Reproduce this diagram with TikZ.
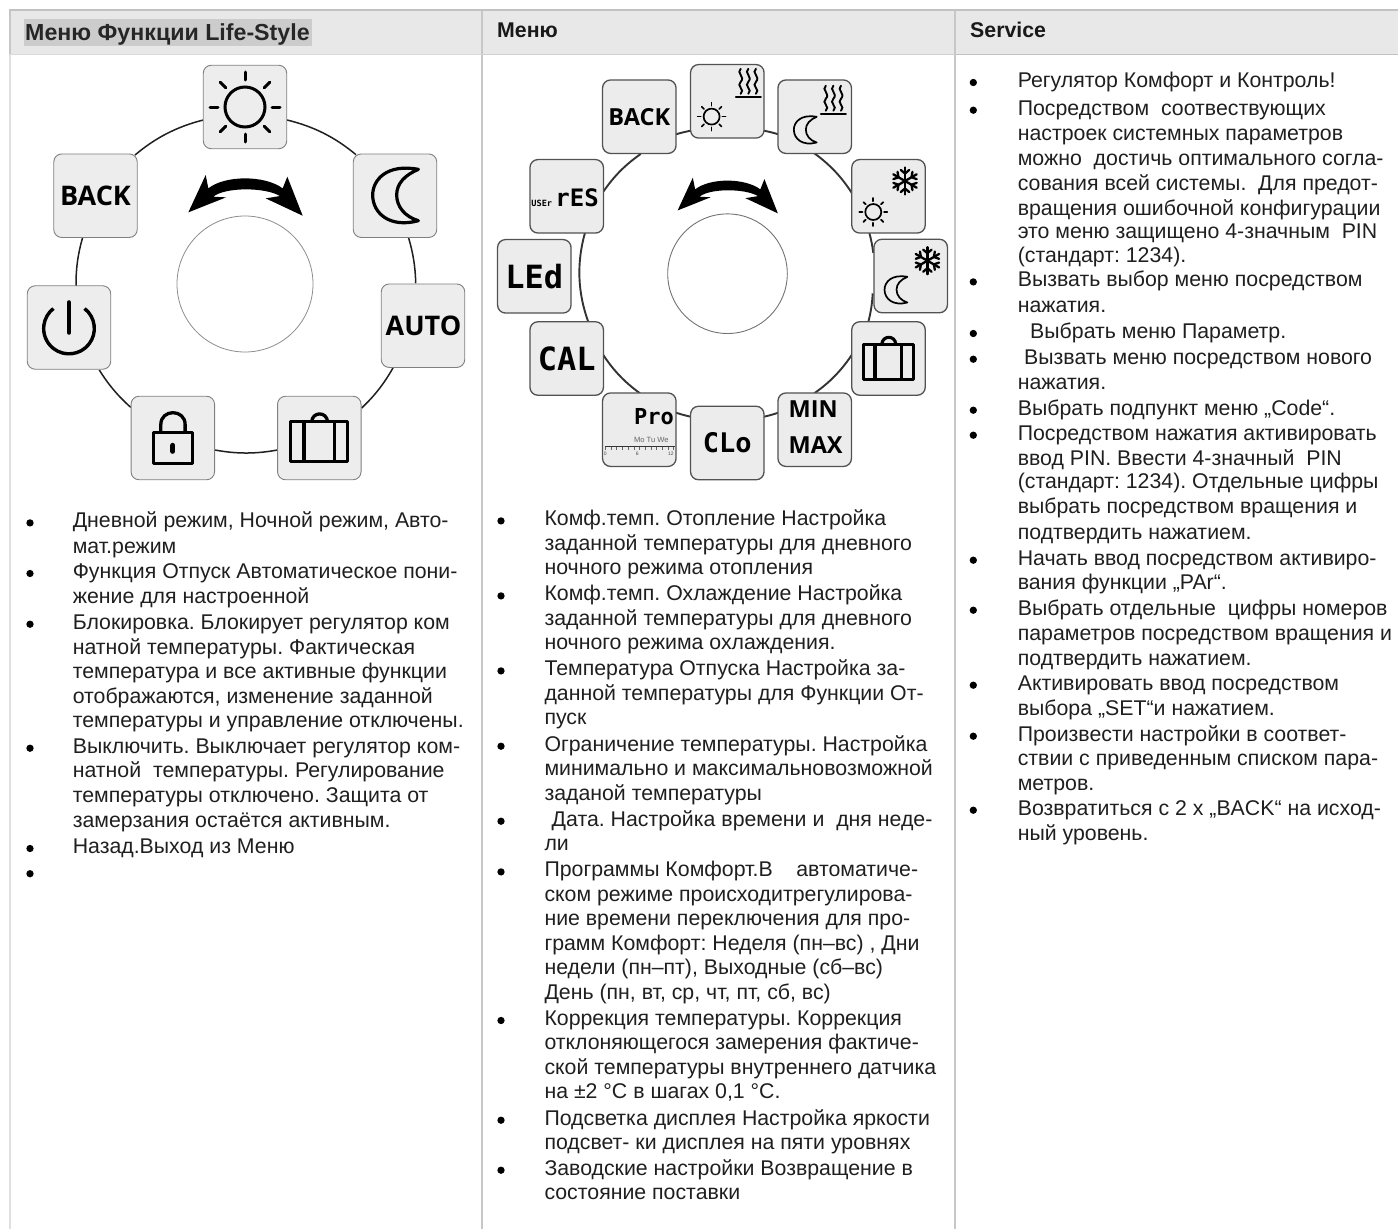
\documentclass[tikz,border=0pt]{standalone}
\usepackage{fontspec}
\setmainfont{Liberation Sans}
\newfontfamily\osb{Open Sans}
\newfontfamily\lcd{DejaVu Sans Mono}
\usetikzlibrary{backgrounds}
\frenchspacing
\newcounter{lc}
\newcommand\txl[3]{\stepcounter{lc}\node[bodytxt] (t\arabic{lc}) at (#1,#2) {#3};}
\newcommand\bul[2]{\stepcounter{lc}\node[bulletdot] (b\arabic{lc}) at (#1,#2-4.8) {};}
\newcommand\cola[2]{\bul{30}{#1}\txl{72.6}{#1}{#2}}
\newcommand\colb[2]{\bul{501}{#1}\txl{544.3}{#1}{#2}}
\newcommand\colc[2]{\bul{973.3}{#1}\txl{1017.6}{#1}{#2}}
\newcommand\ringarc[6][ringa]{\draw[#1] ([shift={(#3)}]#2.center) to[bend left=#6,looseness=.9] ([shift={(#5)}]#4.center);}
\newcommand\sunicon[5]{\begin{scope}[shift={(#1.center)},shift={(#2,#3)},line width=#5pt,line cap=round]
\draw (0,0) circle[radius=#4*20];
\foreach \a in {0,45,...,315} \draw (\a:#4*27) -- (\a:#4*35);
\end{scope}}
\newcommand\moonicon[5]{\begin{scope}[shift={(#1.center)},shift={(#2,#3)},scale=#4/3,line width=#5pt,line join=round]
\draw (70,-79) .. controls (-25,-97) and (-67,-47) .. (-67,-2) .. controls (-67,53) and (-15,98) .. (70,75) .. controls (30,63) and (5,33) .. (5,-2) .. controls (5,-37) and (30,-62) .. (70,-79) -- cycle;
\end{scope}}
\newcommand\caseicon[3]{\begin{scope}[shift={(#1.center)},scale=#2/3,line width=#3pt,line join=round]
\draw (-86,-49) rectangle (85,71);
\draw (-46,-49) -- (-46,71) (45,-49) -- (45,71);
\draw (-23,-49) .. controls (-20,-80) and (22,-80) .. (25,-49);
\end{scope}}
\newcommand\waveicon[3]{\begin{scope}[shift={(#1.center)},shift={(#2,#3)},line width=1.9pt,line cap=round]
\foreach \q in {-7.6,0,7.6} \draw (\q,-14) .. controls (\q-5,-10) and (\q+5,-6) .. (\q,-1) .. controls (\q-5,3) and (\q+5,7) .. (\q,11);
\draw[line width=2pt] (-12.5,14.2) -- (12.5,14.2);
\end{scope}}
\newcommand\flakeicon[3]{\begin{scope}[shift={(#1.center)},shift={(#2,#3)},line width=2.3pt,line cap=round]
\foreach \a in {30,90,...,330} {\draw (0,0) -- (\a:13.5);
\draw (\a:7.5) -- ++(\a+50:5.5) (\a:7.5) -- ++(\a-50:5.5);}
\end{scope}}
\newcommand\turnarrow[3]{\begin{scope}[shift={(#1,#2)},scale=#3/3]
\fill[black] (-170,47) -- (-118,-65) -- (-110,-25) .. controls (-60,-65) and (60,-65) .. (113,-25) -- (127,-60) -- (173,57) -- (62,5) -- (105,-2) .. controls (60,-29) and (-60,-29) .. (-95,0) -- (-57,2) -- cycle;
\end{scope}}
\tikzset{
 bodytxt/.style={anchor=base west,inner sep=0pt,text=black!88,font=\fontsize{21.3}{24}\selectfont},
 headtxt/.style={anchor=base west,inner sep=0pt,text=black!90,font=\fontsize{21.3}{24}\selectfont\bfseries},
 titletxt/.style={anchor=base west,inner sep=0pt,text=black!85,font=\fontsize{23.2}{24}\selectfont\bfseries},
 bulletdot/.style={circle,fill=black,inner sep=0pt,minimum size=7.3pt},
 bigkey/.style={draw=black!50,fill=black!7,line width=.9pt,rounded corners=8pt,minimum size=83.5pt,inner sep=0pt},
 smallkey/.style={draw=black!68,fill=black!7.5,line width=1.3pt,rounded corners=8pt,minimum size=73.5pt,inner sep=0pt},
 ringa/.style={draw=black!88,line width=1.5pt},
 ringb/.style={draw=black!80,line width=1.9pt},
 keybold/.style={font=\fontsize{#1}{#1}\osb\bfseries\selectfont,text=black},
 lcdtext/.style={font=\fontsize{#1}{#1}\lcd\bfseries\selectfont,text=black,inner sep=0pt},
}
\begin{document}
\begin{tikzpicture}[x=1pt,y=-1pt]
\useasboundingbox (0,0) rectangle (1398,1229);
% table frame
\fill[black!9] (10,11) rectangle (1398,54);
\draw[black!12,line width=2pt] (10,54) -- (10,1229);
\draw[black!22,line width=2pt] (10,10) -- (10,54);
\draw[black!22,line width=2pt] (482,10) -- (482,1229);
\draw[black!22,line width=2pt] (955,10) -- (955,1229);
\draw[black!24,line width=2pt] (9,10) -- (1398,10);
\draw[black!14,line width=1.5pt] (10,54.5) -- (482,54.5);
\draw[black!18,line width=1.5pt] (482,54.5) -- (955,54.5);
\draw[black!24,line width=1.5pt] (955,54.5) -- (1398,54.5);
\fill[black!20] (24,19) rectangle (312,45.5);
\node[titletxt] (h1) at (25,40.7) {Меню Функции Life-Style};
\node[headtxt] (h2) at (497,37.7) {Меню};
\node[headtxt] (h3) at (970,37.7) {Service};

% ---------- first wheel ----------
\node[circle,draw=black!45,line width=.8pt,minimum size=136pt,inner sep=0pt] (dial1) at (245,284) {};
\turnarrow{245}{196.7}{1}
\node[bigkey] (sun) at (245,107) {};
\node[bigkey] (moon) at (395,195.7) {};
\node[bigkey,keybold=27] (auto) at (423,325.7) {\hspace*{1pt}AUTO};
\node[bigkey] (cases) at (319.3,438) {};
\node[bigkey] (lock) at (172.8,438) {};
\node[bigkey] (power) at (69,327.5) {};
\node[bigkey,keybold=27] (back) at (95.5,195.7) {BACK};
\begin{pgfonlayer}{background}
\ringarc{sun}{42,13}{moon}{-39,-41}{13.2}
\ringarc{moon}{13.3,41.3}{auto}{-7.3,-42.4}{7.9}
\ringarc{auto}{-29.7,41.6}{cases}{42.4,-30}{8.7}
\ringarc{cases}{-42,12}{lock}{42.2,12}{10.6}
\ringarc{lock}{-42.1,-30.7}{power}{30.3,42.5}{8.2}
\ringarc{power}{7,-41.5}{back}{-12.8,41.6}{8.3}
\ringarc{back}{39.5,-40.7}{sun}{-41.7,13}{13}
\end{pgfonlayer}
\sunicon{sun}{0}{0}{1}{3}
\moonicon{moon}{0}{0}{1}{3.2}
\caseicon{cases}{1}{3.3}
\begin{scope}[shift={(lock.center)},scale=1/3,line width=3.3pt,line join=round]
\draw (-58,-16) rectangle (60,76);
\draw (-36,-16) -- (-36,-40) .. controls (-36,-88) and (37,-88) .. (37,-40) -- (37,-16);
\draw[line width=5pt,line cap=round] (0,22) -- (0,40);
\end{scope}
\begin{scope}[shift={(power.center)},scale=1/3,line width=3.4pt]
\draw (0,3) ++(-52:76) arc[start angle=-52,end angle=232,radius=76];
\draw[line width=4.6pt,line cap=round] (0,-75) -- (0,15);
\end{scope}

% ---------- second wheel ----------
\node[circle,draw=black!55,line width=.9pt,minimum size=119.6pt,inner sep=0pt] (dial2) at (727.5,273.7) {};
\turnarrow{727.3}{196.7}{.877}
\node[smallkey] (hsun) at (727.3,101.3) {};
\node[smallkey] (hmoon) at (814.7,116.7) {};
\node[smallkey] (csun) at (888.5,196.3) {};
\node[smallkey] (cmoon) at (910.7,276) {};
\node[smallkey] (case2) at (888.5,358.5) {};
\node[smallkey] (minmax) at (814.7,429.7) {};
\node[smallkey,lcdtext=27] (clo) at (727.3,443) {CLo};
\node[smallkey] (pro) at (639.3,429.7) {};
\node[smallkey,lcdtext=32] (cal) at (566.7,358.5) {CAL};
\node[smallkey,lcdtext=32] (led) at (534.3,276.3) {LEd};
\node[smallkey] (res) at (566.7,196.3) {};
\node[smallkey,keybold=23.5] (back2) at (639.3,116.7) {BACK};
\begin{pgfonlayer}{background}
\ringarc[ringb]{hsun}{36.7,29.4}{hmoon}{-36.4,17.6}{2.9}
\ringarc[ringb]{hmoon}{-.4,36.6}{csun}{-36.5,-3}{10.8}
\ringarc[ringb]{csun}{-19.2,36.4}{cmoon}{-37.4,-23}{4}
\ringarc[ringb]{cmoon}{-38,17.3}{case2}{-20.2,-36.5}{5.7}
\ringarc[ringb]{case2}{-36.8,-3.5}{minmax}{-.4,-36.4}{10.5}
\ringarc[ringb]{minmax}{-36.4,-17}{clo}{36.7,-26.3}{2.9}
\ringarc[ringb]{clo}{-36.6,-26.3}{pro}{36.7,-17}{2.9}
\ringarc[ringb]{pro}{.7,-36.4}{cal}{36.6,-3.5}{10.4}
\ringarc[ringb]{cal}{21.6,-36.5}{res}{18.3,36.4}{17.8}
\ringarc[ringb]{res}{36.6,-4.6}{back2}{1.4,37.3}{10.4}
\ringarc[ringb]{back2}{36.7,17.6}{hsun}{-36.6,29.4}{2.9}
\end{pgfonlayer}
\sunicon{hsun}{-15.7}{15.3}{.4}{1.7}
\waveicon{hsun}{21}{-18.5}
\moonicon{hmoon}{-9.7}{13.3}{.5}{1.7}
\waveicon{hmoon}{18.7}{-17}
\sunicon{csun}{-15.2}{15.7}{.4}{1.7}
\flakeicon{csun}{16.5}{-15.3}
\moonicon{cmoon}{-15}{14}{.5}{1.7}
\flakeicon{cmoon}{16.7}{-15.3}
\caseicon{case2}{.88}{3.1}
\node[keybold=23.5,anchor=base west,inner sep=0pt] (mintxt) at ([shift={(-26.3,-12)}]minmax.center) {MIN};
\node[keybold=23.5,anchor=base west,inner sep=0pt] (maxtxt) at ([shift={(-26.3,24)}]minmax.center) {MAX};
\node[lcdtext=22,anchor=base] (protxt) at ([shift={(14.7,-5)}]pro.center) {Pro};
\node[font=\fontsize{7.6}{8}\selectfont,text=black!60,inner sep=0pt,anchor=base west] (daytxt) at ([shift={(-5.5,13)}]pro.center) {Mo Tu We};
\draw[line width=1.5pt,black!80] ([shift={(-34,17)}]pro.center) -- ([shift={(36,17)}]pro.center);
\foreach \q in {-34,-28.3,...,36} \draw[line width=.5pt,black!60] ([shift={(\q,17)}]pro.center) -- ([shift={(\q,20)}]pro.center);
\node[font=\fontsize{5}{5}\selectfont,text=black!70,inner sep=0pt] (n0) at ([shift={(-34,24)}]pro.center) {0};
\node[font=\fontsize{5}{5}\selectfont,text=black!70,inner sep=0pt] (n6) at ([shift={(-2,24)}]pro.center) {6};
\node[font=\fontsize{5}{5}\selectfont,text=black!70,inner sep=0pt] (n12) at ([shift={(31.5,24)}]pro.center) {12};
\node[lcdtext=8.6,anchor=base west] (usertxt) at ([shift={(-35.5,10.5)}]res.center) {USEr};
\node[lcdtext=24,anchor=base west] (restxt) at ([shift={(-11.5,10.5)}]res.center) {rES};

% ---------- column 1 text ----------
\cola{527.7}{Дневной режим, Ночной режим, Авто-}
\txl{72.6}{553.3}{мат.режим}
\cola{578.3}{Функция Отпуск Автоматическое пони-}
\txl{72.6}{603.3}{жение для настроенной}
\cola{629}{Блокировка. Блокирует регулятор ком}
\txl{72.6}{654}{натной температуры. Фактическая}
\txl{72.6}{678.3}{температура и все активные функции}
\txl{72.6}{703.3}{отображаются, изменение заданной}
\txl{72.6}{727.7}{температуры и управление отключены.}
\cola{753}{Выключить. Выключает регулятор ком-}
\txl{72.6}{777.7}{натной\ \ температуры. Регулирование}
\txl{72.6}{802.7}{температуры отключено. Защита от}
\txl{72.6}{827.3}{замерзания остаётся активным.}
\cola{853.3}{Назад.Выход из Меню}
\bul{30}{878.5}

% ---------- column 2 text ----------
\colb{525.7}{Комф.темп. Отопление Настройка}
\txl{544.3}{550}{заданной температуры для дневного}
\txl{544.3}{574.3}{ночного режима отопления}
\colb{600.7}{Комф.темп. Охлаждение Настройка}
\txl{544.3}{625}{заданной температуры для дневного}
\txl{544.3}{649.3}{ночного режима охлаждения.}
\colb{675.7}{Температура Отпуска Настройка за-}
\txl{544.3}{700}{данной температуры для Функции От-}
\txl{544.3}{724.3}{пуск}
\colb{751}{Ограничение температуры. Настройка}
\txl{544.3}{775}{минимально и максимальновозможной}
\txl{544.3}{800}{заданой температуры}
\bul{501}{826}\txl{551.5}{826}{Дата. Настройка времени и\ \ дня неде-}
\txl{544.3}{850.7}{ли}
\colb{876.7}{Программы Комфорт.В\ \ \ \ автоматиче-}
\txl{544.3}{901.7}{ском режиме происходитрегулирова-}
\txl{544.3}{925.7}{ние времени переключения для про-}
\txl{544.3}{950}{грамм Комфорт: Неделя (пн–вс) , Дни}
\txl{544.3}{974.3}{недели (пн–пт), Выходные (сб–вс)}
\txl{544.3}{999.3}{День (пн, вт, ср, чт, пт, сб, вс)}
\colb{1025.3}{Коррекция температуры. Коррекция}
\txl{544.3}{1049.3}{отклоняющегося замерения фактиче-}
\txl{544.3}{1074}{ской температуры внутреннего датчика}
\txl{544.3}{1098.3}{на ±2 °C в шагах 0,1 °C.}
\colb{1125}{Подсветка дисплея Настройка яркости}
\txl{544.3}{1149.3}{подсвет- ки дисплея на пяти уровнях}
\colb{1175}{Заводские настройки Возвращение в}
\txl{544.3}{1199.3}{состояние поставки}

% ---------- column 3 text ----------
\colc{87.3}{Регулятор Комфорт и Контроль!}
\colc{115}{Посредством\ \ соотвествующих}
\txl{1017.6}{140}{настроек системных параметров}
\txl{1017.6}{165}{можно\ \ достичь оптимального согла-}
\txl{1017.6}{190}{сования всей системы.\ \ Для предот-}
\txl{1017.6}{215}{вращения ошибочной конфигурации}
\txl{1017.6}{238.3}{это меню защищено 4-значным\ \ PIN}
\txl{1017.6}{262.7}{(стандарт: 1234).}
\colc{286.7}{Вызвать выбор меню посредством}
\txl{1017.6}{312.3}{нажатия.}
\bul{973.3}{338.3}\txl{1030}{338.3}{Выбрать меню Параметр.}
\bul{973.3}{364}\txl{1024}{364}{Вызвать меню посредством нового}
\txl{1017.6}{389}{нажатия.}
\colc{415}{Выбрать подпункт меню „Code“.}
\colc{440}{Посредством нажатия активировать}
\txl{1017.6}{465}{ввод PIN. Ввести 4-значный\ \ PIN}
\txl{1017.6}{488.3}{(стандарт: 1234). Отдельные цифры}
\txl{1017.6}{513.3}{выбрать посредством вращения и}
\txl{1017.6}{539}{подтвердить нажатием.}
\colc{565}{Начать ввод посредством активиро-}
\txl{1017.6}{589}{вания функции „PAr“.}
\colc{615}{Выбрать отдельные\ \ цифры номеров}
\txl{1017.6}{640}{параметров посредством вращения и}
\txl{1017.6}{665}{подтвердить нажатием.}
\colc{690}{Активировать ввод посредством}
\txl{1017.6}{715}{выбора „SET“и нажатием.}
\colc{741}{Произвести настройки в соответ-}
\txl{1017.6}{765}{ствии с приведенным списком пара-}
\txl{1017.6}{790}{метров.}
\colc{815}{Возвратиться с 2 х „BACK“ на исход-}
\txl{1017.6}{840}{ный уровень.}
\end{tikzpicture}
\end{document}
